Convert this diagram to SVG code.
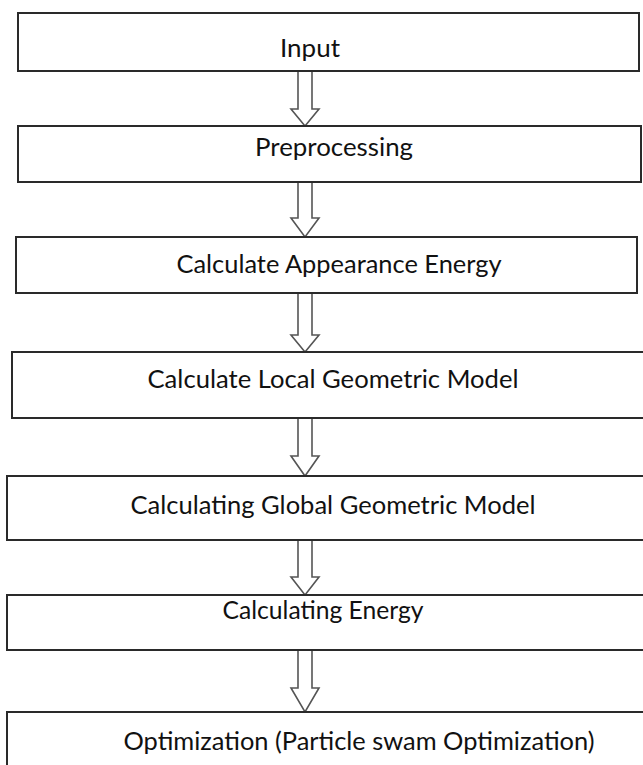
<svg xmlns="http://www.w3.org/2000/svg" width="643" height="765" viewBox="0 0 643 765">
<style>
.box{fill:#fff;stroke:#2a2a2a;stroke-width:2}
.lbl{font-family:Lato,"Liberation Sans",Arial,sans-serif;font-size:25px;fill:#111;text-anchor:middle}
.arr{fill:#fff;stroke:#555;stroke-width:1.6;stroke-linejoin:miter}
</style>
<rect width="643" height="765" fill="#fff"/>
<g id="connectors">
<path class="arr" d="M298,71 L298,109 L291,109 L305,126 L319,109 L312,109 L312,71"/>
<path class="arr" d="M298,182 L298,218 L291,218 L305,237 L319,218 L312,218 L312,182"/>
<path class="arr" d="M298,293 L298,335 L291,335 L305,352 L319,335 L312,335 L312,293"/>
<path class="arr" d="M298,418 L298,456 L291,456 L305,476 L319,456 L312,456 L312,418"/>
<path class="arr" d="M298,540 L298,577 L291,577 L305,595 L319,577 L312,577 L312,540"/>
<path class="arr" d="M298,650 L298,688 L291,688 L305,712 L319,688 L312,688 L312,650"/>
</g>
<g id="n1"><rect class="box" x="18" y="13" width="621" height="58"/><text class="lbl" x="310" y="57" textLength="60" lengthAdjust="spacingAndGlyphs">Input</text></g>
<g id="n2"><rect class="box" x="18" y="126" width="623" height="56"/><text class="lbl" x="334" y="156" textLength="158" lengthAdjust="spacingAndGlyphs">Preprocessing</text></g>
<g id="n3"><rect class="box" x="16" y="237" width="621" height="56"/><text class="lbl" x="339" y="273" textLength="325" lengthAdjust="spacingAndGlyphs">Calculate Appearance Energy</text></g>
<g id="n4"><rect class="box" x="12" y="352" width="640" height="66"/><text class="lbl" x="333" y="388" textLength="371" lengthAdjust="spacingAndGlyphs">Calculate Local Geometric Model</text></g>
<g id="n5"><rect class="box" x="7" y="476" width="645" height="64"/><text class="lbl" x="333" y="514" textLength="405" lengthAdjust="spacingAndGlyphs">Calculating Global Geometric Model</text></g>
<g id="n6"><rect class="box" x="7" y="595" width="645" height="55"/><text class="lbl" x="323" y="619" textLength="201" lengthAdjust="spacingAndGlyphs">Calculating Energy</text></g>
<g id="n7"><rect class="box" x="7" y="712" width="645" height="70"/><text class="lbl" x="359" y="750" textLength="471" lengthAdjust="spacingAndGlyphs">Optimization (Particle swam Optimization)</text></g>
</svg>
